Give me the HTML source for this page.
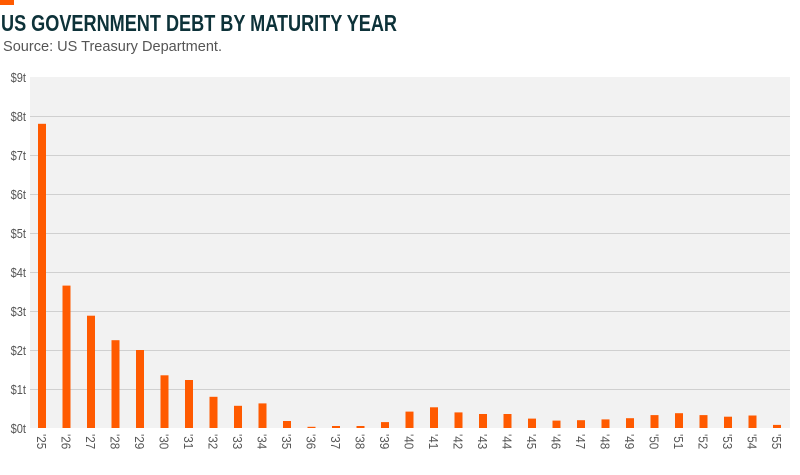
<!DOCTYPE html>
<html><head><meta charset="utf-8"><style>
body{margin:0;background:#fff;width:800px;height:475px;overflow:hidden;font-family:"Liberation Sans",sans-serif}
</style></head><body>
<svg width="800" height="475" xmlns="http://www.w3.org/2000/svg" style="position:absolute;left:0;top:0">
<rect x="0" y="0" width="14" height="5" fill="#ff5a00"/>
<text x="1" y="31" font-size="23" font-weight="bold" fill="#0d3239" textLength="396" lengthAdjust="spacingAndGlyphs">US GOVERNMENT DEBT BY MATURITY YEAR</text>
<text x="3" y="51" font-size="15" fill="#555" textLength="219" lengthAdjust="spacingAndGlyphs">Source: US Treasury Department.</text>
<rect x="30" y="77" width="760" height="351" fill="#f2f2f2"/>
<g stroke="#d0d0d0" stroke-width="1">
<line x1="30" x2="790" y1="116.5" y2="116.5"/><line x1="30" x2="790" y1="155.5" y2="155.5"/><line x1="30" x2="790" y1="194.5" y2="194.5"/><line x1="30" x2="790" y1="233.5" y2="233.5"/><line x1="30" x2="790" y1="272.5" y2="272.5"/><line x1="30" x2="790" y1="311.5" y2="311.5"/><line x1="30" x2="790" y1="350.5" y2="350.5"/><line x1="30" x2="790" y1="389.5" y2="389.5"/>
</g>
<g font-size="13" fill="#555" text-anchor="end" transform="translate(26,0) scale(0.85,1) translate(-26,0)">
<text x="26" y="82">$9t</text><text x="26" y="121">$8t</text><text x="26" y="160">$7t</text><text x="26" y="199">$6t</text><text x="26" y="238">$5t</text><text x="26" y="277">$4t</text><text x="26" y="316">$3t</text><text x="26" y="355">$2t</text><text x="26" y="394">$1t</text><text x="26" y="433">$0t</text>
</g>
<g fill="#ff5a00">
<rect x="38" y="123.8" width="8" height="304.2"/>
<rect x="62.5" y="285.6" width="8" height="142.4"/>
<rect x="87" y="315.7" width="8" height="112.3"/>
<rect x="111.5" y="340.2" width="8" height="87.8"/>
<rect x="136" y="350" width="8" height="78"/>
<rect x="160.5" y="375.3" width="8" height="52.7"/>
<rect x="185" y="380" width="8" height="48"/>
<rect x="209.5" y="396.8" width="8" height="31.2"/>
<rect x="234" y="405.8" width="8" height="22.2"/>
<rect x="258.5" y="403.4" width="8" height="24.6"/>
<rect x="283" y="421" width="8" height="7"/>
<rect x="307.5" y="426.8" width="8" height="1.2"/>
<rect x="332" y="426" width="8" height="2"/>
<rect x="356.5" y="426" width="8" height="2"/>
<rect x="381" y="422.1" width="8" height="5.9"/>
<rect x="405.5" y="411.6" width="8" height="16.4"/>
<rect x="430" y="407.3" width="8" height="20.7"/>
<rect x="454.5" y="412.4" width="8" height="15.6"/>
<rect x="479" y="414" width="8" height="14"/>
<rect x="503.5" y="414" width="8" height="14"/>
<rect x="528" y="418.6" width="8" height="9.4"/>
<rect x="552.5" y="420.6" width="8" height="7.4"/>
<rect x="577" y="420.2" width="8" height="7.8"/>
<rect x="601.5" y="419.4" width="8" height="8.6"/>
<rect x="626" y="418.2" width="8" height="9.8"/>
<rect x="650.5" y="415.1" width="8" height="12.9"/>
<rect x="675" y="413.2" width="8" height="14.8"/>
<rect x="699.5" y="415.1" width="8" height="12.9"/>
<rect x="724" y="416.7" width="8" height="11.3"/>
<rect x="748.5" y="415.5" width="8" height="12.5"/>
<rect x="773" y="424.9" width="8" height="3.1"/>
</g>
<g font-size="13" fill="#555">
<text transform="translate(37,434) rotate(90) scale(0.9,1)">'25</text>
<text transform="translate(61.5,434) rotate(90) scale(0.9,1)">'26</text>
<text transform="translate(86,434) rotate(90) scale(0.9,1)">'27</text>
<text transform="translate(110.5,434) rotate(90) scale(0.9,1)">'28</text>
<text transform="translate(135,434) rotate(90) scale(0.9,1)">'29</text>
<text transform="translate(159.5,434) rotate(90) scale(0.9,1)">'30</text>
<text transform="translate(184,434) rotate(90) scale(0.9,1)">'31</text>
<text transform="translate(208.5,434) rotate(90) scale(0.9,1)">'32</text>
<text transform="translate(233,434) rotate(90) scale(0.9,1)">'33</text>
<text transform="translate(257.5,434) rotate(90) scale(0.9,1)">'34</text>
<text transform="translate(282,434) rotate(90) scale(0.9,1)">'35</text>
<text transform="translate(306.5,434) rotate(90) scale(0.9,1)">'36</text>
<text transform="translate(331,434) rotate(90) scale(0.9,1)">'37</text>
<text transform="translate(355.5,434) rotate(90) scale(0.9,1)">'38</text>
<text transform="translate(380,434) rotate(90) scale(0.9,1)">'39</text>
<text transform="translate(404.5,434) rotate(90) scale(0.9,1)">'40</text>
<text transform="translate(429,434) rotate(90) scale(0.9,1)">'41</text>
<text transform="translate(453.5,434) rotate(90) scale(0.9,1)">'42</text>
<text transform="translate(478,434) rotate(90) scale(0.9,1)">'43</text>
<text transform="translate(502.5,434) rotate(90) scale(0.9,1)">'44</text>
<text transform="translate(527,434) rotate(90) scale(0.9,1)">'45</text>
<text transform="translate(551.5,434) rotate(90) scale(0.9,1)">'46</text>
<text transform="translate(576,434) rotate(90) scale(0.9,1)">'47</text>
<text transform="translate(600.5,434) rotate(90) scale(0.9,1)">'48</text>
<text transform="translate(625,434) rotate(90) scale(0.9,1)">'49</text>
<text transform="translate(649.5,434) rotate(90) scale(0.9,1)">'50</text>
<text transform="translate(674,434) rotate(90) scale(0.9,1)">'51</text>
<text transform="translate(698.5,434) rotate(90) scale(0.9,1)">'52</text>
<text transform="translate(723,434) rotate(90) scale(0.9,1)">'53</text>
<text transform="translate(747.5,434) rotate(90) scale(0.9,1)">'54</text>
<text transform="translate(772,434) rotate(90) scale(0.9,1)">'55</text>
</g>
</svg>
</body></html>
